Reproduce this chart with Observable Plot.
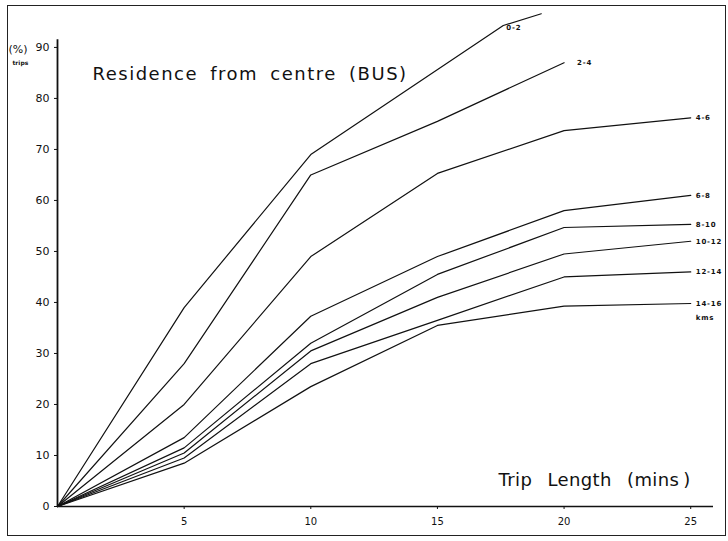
<!DOCTYPE html>
<html><head><meta charset="utf-8">
<script src="https://cdn.jsdelivr.net/npm/d3@7"></script>
<script src="https://cdn.jsdelivr.net/npm/@observablehq/plot@0.6"></script>
<style>
body{margin:0;background:#fff;}
#wrap{position:relative;width:728px;height:541px;overflow:hidden;background:#fff;}
#border{position:absolute;left:7px;top:5px;width:719px;height:531px;border:1.5px solid #222;pointer-events:none;box-sizing:border-box;}
</style></head><body>
<div id="wrap"><div id="chart"></div><div id="border"></div></div>
<script>
// Trip length (mins) and % of trips, per residence band (kms from centre)
const seriesNames = ["0-2","2-4","4-6","6-8","8-10","10-12","12-14","14-16"];
const t0_2   = [0, 5, 10, 17.6, 19.1];
const v0_2   = [0, 39, 69, 94.3, 96.6];
const t2_4   = [0, 5, 10, 15, 20];
const v2_4   = [0, 28, 65, 75.5, 87];
const tStd   = [0, 5, 10, 15, 20, 25];
const v4_6   = [0, 20, 49, 65.3, 73.7, 76.2];
const v6_8   = [0, 13.5, 37.3, 49, 58, 61];
const v8_10  = [0, 11.5, 32, 45.5, 54.7, 55.3];
const v10_12 = [0, 10.5, 30.5, 41, 49.5, 52];
const v12_14 = [0, 9.5, 28, 36.5, 45, 46];
const v14_16 = [0, 8.5, 23.5, 35.5, 39.3, 39.8];
const xTicks = [5, 10, 15, 20, 25];
const yTicks = [0, 10, 20, 30, 40, 50, 60, 70, 80, 90];
const titleText = "Residence from centre (BUS)";
const xLabel = "Trip Length (mins\u2009)";
const yLabel = "(%)";
const yLabel2 = "trips";
const unitLabel = "kms";

const seriesT = [t0_2, t2_4, tStd, tStd, tStd, tStd, tStd, tStd];
const seriesV = [v0_2, v2_4, v4_6, v6_8, v8_10, v10_12, v12_14, v14_16];

const rows = [];
seriesNames.forEach((s, i) => {
  seriesT[i].forEach((t, j) => rows.push({s, t, v: seriesV[i][j]}));
});

// label anchor: 0-2 at its bend, others at the line end
const labelRows = seriesNames.map((s, i) => {
  const T = seriesT[i], V = seriesV[i];
  const j = s === "0-2" ? 3 : T.length - 1;
  return {s, t: T[j], v: V[j]};
});
const endRows = labelRows.filter(d => d.t === 25);
const r24 = labelRows.filter(d => d.s === "2-4");
const r02 = labelRows.filter(d => d.s === "0-2");
const rLast = labelRows.filter(d => d.s === "14-16");

const font = "DejaVu Sans";
const chart = Plot.plot({
  width: 728, height: 541,
  marginLeft: 57, marginRight: 15, marginTop: 0, marginBottom: 35,
  x: {domain: [0, 25.9]},
  y: {domain: [0, 99.2]},
  style: {fontFamily: font, background: "transparent", color: "#111"},
  marks: [
    Plot.ruleY([0], {stroke: "#111", strokeWidth: 1.6}),
    Plot.ruleX([0], {y1: 0, y2: 91.5, stroke: "#111", strokeWidth: 1.8}),
    Plot.axisY({ticks: yTicks, tickSize: 3, tickPadding: 5, fontSize: 11, label: null, tickFormat: d => String(d)}),
    Plot.axisX({ticks: xTicks, tickSize: 3, tickPadding: 8, fontSize: 10, label: null, tickFormat: d => String(d)}),
    Plot.line(rows, {x: "t", y: "v", z: "s", stroke: "#111", strokeWidth: 1.2}),
    Plot.text(endRows, {x: "t", y: "v", text: "s", dx: 5, textAnchor: "start", fontSize: 7, fontWeight: "bold"}),
    Plot.text(r24, {x: "t", y: "v", text: "s", dx: 13, textAnchor: "start", fontSize: 7, fontWeight: "bold"}),
    Plot.text(r02, {x: "t", y: "v", text: "s", dx: 3, dy: 2, textAnchor: "start", fontSize: 7, fontWeight: "bold"}),
    Plot.text(rLast, {x: "t", y: "v", text: () => unitLabel, dx: 5, dy: 14, textAnchor: "start", fontSize: 7, fontWeight: "bold"}),
    Plot.text([titleText], {frameAnchor: "top-left", dx: 35, dy: 67, textAnchor: "start", fontSize: 18}),
    Plot.text([xLabel], {frameAnchor: "top-left", dx: 441, dy: 473, textAnchor: "start", fontSize: 18}),
    Plot.text([yLabel], {frameAnchor: "top-left", dx: -49, dy: 45, textAnchor: "start", fontSize: 11}),
    Plot.text([yLabel2], {frameAnchor: "top-left", dx: -45, dy: 60, textAnchor: "start", fontSize: 6, fontWeight: "bold"})
  ]
});
document.getElementById("chart").appendChild(chart);
d3.select(chart).selectAll("text").filter(function(){ return this.textContent === titleText; })
  .style("letter-spacing", "1.5px").style("word-spacing", "5px");
d3.select(chart).selectAll("text").filter(function(){ return this.textContent === xLabel; })
  .style("letter-spacing", "0.4px").style("word-spacing", "9px");
d3.select(chart).selectAll("text").filter(function(){ return seriesNames.includes(this.textContent) || this.textContent === unitLabel; })
  .style("letter-spacing", "0.8px");
</script>
</body></html>
